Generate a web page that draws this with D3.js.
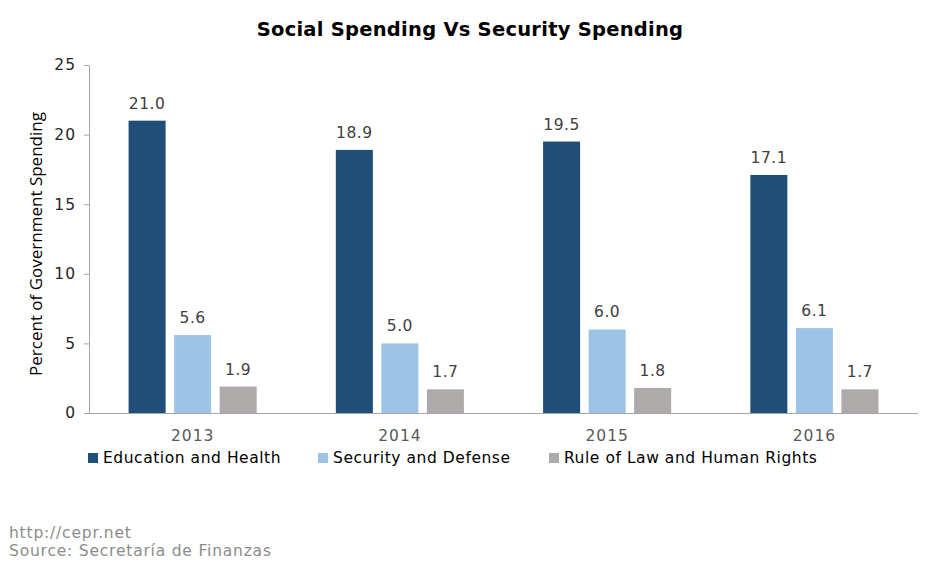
<!DOCTYPE html>
<html><head><meta charset="utf-8">
<script src="https://cdn.jsdelivr.net/npm/d3@7"></script>
<style>body{margin:0;background:#fff}svg{display:block;font-family:"DejaVu Sans",Verdana,sans-serif}</style>
</head><body>
<script>
const years = ["2013","2014","2015","2016"];
const seriesNames = ["Education and Health","Security and Defense","Rule of Law and Human Rights"];
const educationHealth = [21.0,18.9,19.5,17.1];
const securityDefense = [5.6,5.0,6.0,6.1];
const ruleOfLaw = [1.9,1.7,1.8,1.7];
const yTicks = [0,5,10,15,20,25];
const colors = ["#1F4E79","#9DC3E6","#AEAAAA"];
const seriesValues = [educationHealth, securityDefense, ruleOfLaw];

(function(){
const W=941,H=564;
const svg=d3.select("body").append("svg").attr("width",W).attr("height",H);
const mLeft=89,mRight=918,mTop=65,mBottom=413;
const y=d3.scaleLinear().domain([0,25]).range([mBottom,mTop]);
const x0=d3.scaleBand().domain(years).range([mLeft,mRight]).paddingInner(0.382).paddingOuter(0.191);
const x1=d3.scaleBand().domain(d3.range(3)).range([0,x0.bandwidth()]).paddingInner(0.187).paddingOuter(0);

svg.append("text").attr("x",470).attr("y",36).attr("text-anchor","middle")
  .attr("font-size",19.5).attr("font-weight","bold").attr("letter-spacing",0.25).attr("fill","#000").text("Social Spending Vs Security Spending");

// y axis
const ya=svg.append("g").attr("transform",`translate(${mLeft},0)`)
  .call(d3.axisLeft(y).tickValues(yTicks).tickSize(5).tickPadding(8).tickSizeOuter(0));
ya.select(".domain").attr("stroke","#A6A6A6");
ya.selectAll(".tick line").attr("stroke","#A6A6A6");
ya.selectAll("text").attr("font-size",15.5).attr("letter-spacing",1).attr("fill","#262626").attr("font-family","DejaVu Sans, Verdana, sans-serif");

// x axis
const xa=svg.append("g").attr("transform",`translate(0,${mBottom})`)
  .call(d3.axisBottom(x0).tickSize(0).tickPadding(17).tickSizeOuter(0));
xa.select(".domain").attr("stroke","#A6A6A6").attr("d",`M${mLeft},0.5H${mRight}`);
xa.selectAll("text").attr("font-size",15.5).attr("letter-spacing",1).attr("fill","#595959").attr("font-family","DejaVu Sans, Verdana, sans-serif");

// bars
const groups=svg.append("g").selectAll("g").data(years).join("g")
  .attr("transform",d=>`translate(${x0(d)},0)`);
groups.each(function(yr,i){
  const g=d3.select(this);
  seriesValues.forEach((vals,s)=>{
    g.append("rect").attr("x",x1(s)).attr("width",x1.bandwidth())
      .attr("y",y(vals[i])).attr("height",y(0)-y(vals[i])).attr("fill",colors[s]);
    g.append("text").attr("x",x1(s)+x1.bandwidth()/2).attr("y",y(vals[i])-12)
      .attr("text-anchor","middle").attr("font-size",15.5).attr("letter-spacing",0.5).attr("fill","#404040")
      .text(vals[i].toFixed(1));
  });
});

// y label
svg.append("text").attr("transform","translate(42,244) rotate(-90)").attr("text-anchor","middle")
  .attr("font-family","'Open Sans', sans-serif")
  .attr("font-size",17).attr("fill","#000").text("Percent of Government Spending");

// legend
const legX=[88,318,549];
seriesNames.forEach((n,s)=>{
  svg.append("rect").attr("x",legX[s]).attr("y",453).attr("width",10).attr("height",10).attr("fill",colors[s]);
  svg.append("text").attr("x",legX[s]+15).attr("y",463).attr("font-size",15.5).attr("letter-spacing",0.55).attr("fill","#000").text(n);
});

// source
svg.append("text").attr("x",9).attr("y",538).attr("font-size",15.5).attr("letter-spacing",0.8).attr("fill","#8C8C8C").text("http://cepr.net");
svg.append("text").attr("x",9).attr("y",556).attr("font-size",15.5).attr("letter-spacing",0.8).attr("fill","#8C8C8C").text("Source: Secretaría de Finanzas");
})();
</script>
</body></html>
